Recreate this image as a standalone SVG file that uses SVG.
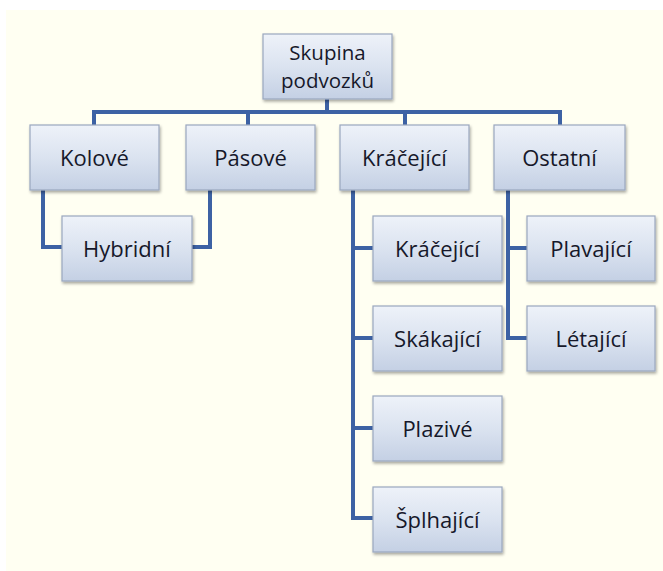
<svg xmlns="http://www.w3.org/2000/svg" width="663" height="571" viewBox="0 0 663 571">
  <defs>
    <linearGradient id="boxFill" x1="0" y1="0" x2="0" y2="1">
      <stop offset="0" stop-color="#eef2f9"/>
      <stop offset="0.5" stop-color="#dbe3f0"/>
      <stop offset="1" stop-color="#c4d0e4"/>
    </linearGradient>
    <filter id="shadow" x="-10%" y="-10%" width="125%" height="130%">
      <feGaussianBlur in="SourceAlpha" stdDeviation="1.5"/>
      <feOffset dx="1" dy="2" result="b"/>
      <feComponentTransfer><feFuncA type="linear" slope="0.35"/></feComponentTransfer>
      <feMerge><feMergeNode/><feMergeNode in="SourceGraphic"/></feMerge>
    </filter>
  </defs>
  <style>
    .box { fill: url(#boxFill); stroke: #9aa7bf; stroke-width: 1.2; filter: url(#shadow); }
    .lbl { font-family: "Open Sans", "Liberation Sans", sans-serif; font-size: 22px; fill: #16182a; text-anchor: middle; dominant-baseline: central; }
    .lbl2 { font-size: 20.5px; }
    .wire { fill: none; stroke: #3d62a4; stroke-width: 4; stroke-linejoin: miter; }
  </style>

  <rect x="0" y="0" width="663" height="571" fill="#ffffff"/>
  <rect x="6" y="10" width="657" height="561" fill="#fffff2"/>

  <g id="connectors">
    <path class="wire" d="M327 99 V112"/>
    <path class="wire" d="M94 125 V112 H560 V125"/>
    <path class="wire" d="M248 112 V125"/>
    <path class="wire" d="M405 112 V125"/>
    <path class="wire" d="M43 190 V247 H62"/>
    <path class="wire" d="M210 190 V247 H192"/>
    <path class="wire" d="M353 190 V518 H373"/>
    <path class="wire" d="M353 248 H373"/>
    <path class="wire" d="M353 338 H373"/>
    <path class="wire" d="M353 428 H373"/>
    <path class="wire" d="M508 190 V338 H527"/>
    <path class="wire" d="M508 248 H527"/>
  </g>

  <g id="skupina">
    <rect class="box" x="263" y="34" width="129" height="65"/>
    <text class="lbl lbl2" x="327.5" y="66"><tspan x="327.5" dy="-14">Skupina</tspan><tspan x="327.5" dy="28">podvozků</tspan></text>
  </g>
  <g id="kolove">
    <rect class="box" x="30" y="125" width="129" height="65"/>
    <text class="lbl" x="94.5" y="156.5">Kolové</text>
  </g>
  <g id="pasove">
    <rect class="box" x="186" y="125" width="129" height="65"/>
    <text class="lbl" x="250.5" y="156.5">Pásové</text>
  </g>
  <g id="kracejici">
    <rect class="box" x="340" y="125" width="129" height="65"/>
    <text class="lbl" x="404.5" y="156.5">Kráčející</text>
  </g>
  <g id="ostatni">
    <rect class="box" x="494" y="125" width="131" height="65"/>
    <text class="lbl" x="559.5" y="156.5">Ostatní</text>
  </g>
  <g id="hybridni">
    <rect class="box" x="62" y="216" width="130" height="65"/>
    <text class="lbl" x="127" y="247.5">Hybridní</text>
  </g>
  <g id="kracejici-2">
    <rect class="box" x="373" y="216" width="129" height="65"/>
    <text class="lbl" x="437.5" y="247.5">Kráčející</text>
  </g>
  <g id="skakajici">
    <rect class="box" x="373" y="306" width="129" height="65"/>
    <text class="lbl" x="437.5" y="337.5">Skákající</text>
  </g>
  <g id="plazive">
    <rect class="box" x="373" y="396" width="129" height="65"/>
    <text class="lbl" x="437.5" y="427.5">Plazivé</text>
  </g>
  <g id="splhajici">
    <rect class="box" x="373" y="487" width="129" height="65"/>
    <text class="lbl" x="437.5" y="518.5">Šplhající</text>
  </g>
  <g id="plavajici">
    <rect class="box" x="527" y="216" width="128" height="65"/>
    <text class="lbl" x="591" y="247.5">Plavající</text>
  </g>
  <g id="letajici">
    <rect class="box" x="527" y="306" width="128" height="65"/>
    <text class="lbl" x="591" y="337.5">Létající</text>
  </g>
</svg>
